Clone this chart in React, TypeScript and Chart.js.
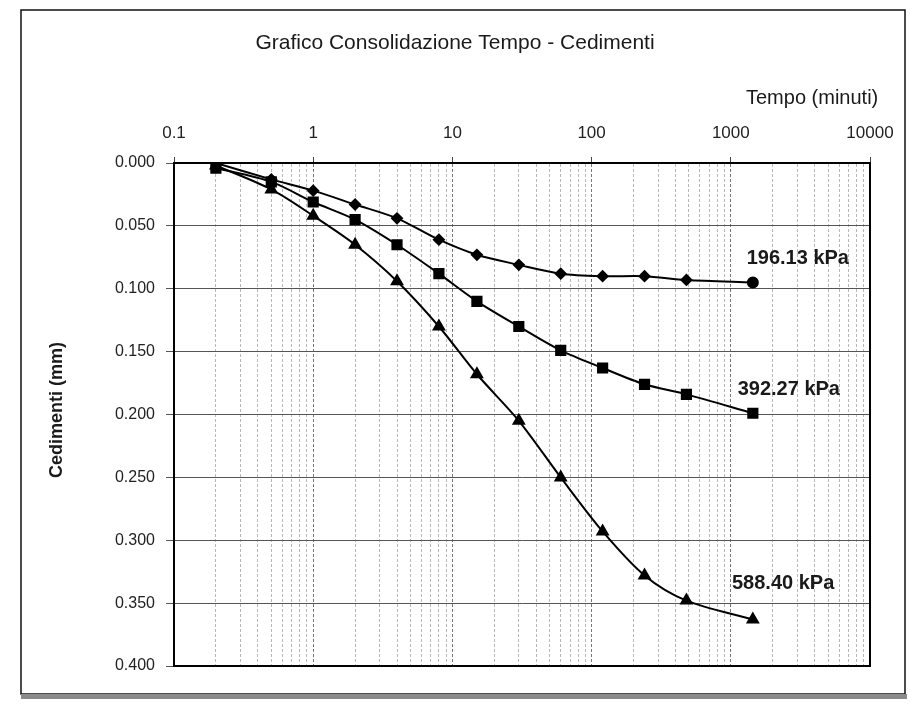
import React, { useEffect, useRef } from 'react';
import { Chart, registerables } from 'chart.js';

Chart.register(...registerables);

// ---- data ----
const times = [0.2, 0.5, 1, 2, 4, 8, 15, 30, 60, 120, 240, 480, 1440];
const ced196 = [0.000, 0.013, 0.022, 0.033, 0.044, 0.061, 0.073, 0.081, 0.088, 0.090, 0.090, 0.093, 0.095];
const ced392 = [0.004, 0.015, 0.031, 0.045, 0.065, 0.088, 0.110, 0.130, 0.149, 0.163, 0.176, 0.184, 0.199];
const ced588 = [0.002, 0.021, 0.042, 0.065, 0.094, 0.130, 0.168, 0.205, 0.250, 0.293, 0.328, 0.348, 0.363];

const seriesNames = ['196.13 kPa', '392.27 kPa', '588.40 kPa'];
const nameTime = [1300, 1120, 1020];
const nameCed = [0.0763, 0.1805, 0.3344];

const xDecades = [0.1, 1, 10, 100, 1000, 10000];
const yTicks = [0, 0.05, 0.1, 0.15, 0.2, 0.25, 0.3, 0.35, 0.4];

const chartTitle = 'Grafico Consolidazione Tempo - Cedimenti';
const xTitle = 'Tempo (minuti)';
const yTitle = 'Cedimenti (mm)';

const FONT = '"Liberation Sans", Arial, sans-serif';

const isDecade = (v: number) => xDecades.some((d) => Math.abs(v - d) < d * 1e-6);

const frameAndText = {
  id: 'frameAndText',
  beforeDraw(chart: any) {
    const ctx = chart.ctx;
    ctx.save();
    ctx.fillStyle = '#ffffff';
    ctx.fillRect(0, 0, chart.width, chart.height);
    // outer frame
    ctx.strokeStyle = '#111';
    ctx.lineWidth = 1.5;
    ctx.strokeRect(21, 10, 884, 684);
    ctx.fillStyle = '#8a8a8a';
    ctx.fillRect(21, 694, 886, 5);
    ctx.restore();
  },
  afterDraw(chart: any) {
    const ctx = chart.ctx;
    const { left, top, right, bottom } = chart.chartArea;
    const xs = chart.scales.x;
    const ys = chart.scales.y;
    ctx.save();
    // plot area box
    ctx.strokeStyle = '#000';
    ctx.lineWidth = 2;
    ctx.strokeRect(left, top, right - left, bottom - top);
    // titles
    ctx.fillStyle = '#1a1a1a';
    ctx.textBaseline = 'middle';
    ctx.font = `21px ${FONT}`;
    ctx.textAlign = 'center';
    ctx.fillText(chartTitle, 455, 43);
    ctx.font = `20px ${FONT}`;
    ctx.textAlign = 'left';
    ctx.fillText(xTitle, 746, 98);
    ctx.save();
    ctx.translate(57, 410);
    ctx.rotate(-Math.PI / 2);
    ctx.textAlign = 'center';
    ctx.font = `bold 18px ${FONT}`;
    ctx.fillText(yTitle, 0, 0);
    ctx.restore();
    // series labels
    ctx.font = `bold 20px ${FONT}`;
    ctx.textAlign = 'left';
    seriesNames.forEach((n, i) => {
      ctx.fillText(n, xs.getPixelForValue(nameTime[i]), ys.getPixelForValue(nameCed[i]));
    });
    ctx.restore();
  },
};

const toPoints = (vals: number[]) => times.map((t, i) => ({ x: t, y: vals[i] }));

export default function App() {
  const ref = useRef<HTMLCanvasElement>(null);
  useEffect(() => {
    if (!ref.current) return;
    const common = {
      borderColor: '#000',
      backgroundColor: '#000',
      borderWidth: 2,
      tension: 0.3,
      pointBorderColor: '#000',
      pointBackgroundColor: '#000',
      showLine: true,
    };
    const chart = new Chart(ref.current, {
      type: 'scatter',
      data: {
        datasets: [
          {
            ...common,
            label: seriesNames[0],
            data: toPoints(ced196),
            pointStyle: times.map((_, i) => (i === times.length - 1 ? 'circle' : 'rectRot')),
            pointRadius: times.map((_, i) => (i === times.length - 1 ? 5 : 5)),
          },
          {
            ...common,
            label: seriesNames[1],
            data: toPoints(ced392),
            pointStyle: 'rect',
            pointRadius: 6.5,
          },
          {
            ...common,
            label: seriesNames[2],
            data: toPoints(ced588),
            pointStyle: 'triangle',
            pointRadius: 6,
          },
        ],
      },
      options: {
        animation: false,
        responsive: false,
        layout: { padding: { left: 0, top: 0, right: 40, bottom: 42 } },
        plugins: { legend: { display: false }, tooltip: { enabled: false }, title: { display: false } },
        scales: {
          x: {
            type: 'logarithmic',
            position: 'top',
            min: 0.1,
            max: 10000,
            afterFit: (s: any) => {
              s.height = 163;
            },
            afterBuildTicks: (s: any) => {
              const t: any[] = [];
              xDecades.forEach((d, di) => {
                if (di === xDecades.length - 1) {
                  t.push({ value: d });
                  return;
                }
                for (let m = 1; m <= 9; m++) t.push({ value: Number((d * m).toPrecision(6)) });
              });
              s.ticks = t;
            },
            ticks: {
              autoSkip: false,
              maxRotation: 0,
              padding: 13,
              color: '#222',
              font: { family: FONT, size: 17 },
              callback: (v: any) => (isDecade(Number(v)) ? String(Number(v)) : ''),
            },
            grid: {
              color: (c: any) => (c.tick && isDecade(c.tick.value) ? '#777' : '#b8b8b8'),
              lineWidth: 1,
              tickLength: 6,
              tickColor: (c: any) => (c.tick && isDecade(c.tick.value) ? '#444' : 'rgba(0,0,0,0)'),
            },
            border: { color: '#000', width: 2, dash: [3, 2] },
          },
          y: {
            type: 'linear',
            reverse: true,
            min: 0,
            max: 0.4,
            afterFit: (s: any) => {
              s.width = 174;
            },
            afterBuildTicks: (s: any) => {
              s.ticks = yTicks.map((v) => ({ value: v }));
            },
            ticks: {
              padding: 11,
              color: '#222',
              font: { family: FONT, size: 16 },
              callback: (v: any) => Number(v).toFixed(3),
            },
            grid: { color: '#555', lineWidth: 1, tickLength: 8, tickColor: '#555' },
            border: { color: '#000', width: 2 },
          },
        },
      },
      plugins: [frameAndText],
    } as any);
    return () => chart.destroy();
  }, []);
  return (
    <div style={{ position: 'absolute', left: 0, top: 0, width: 910, height: 708, background: '#fff' }}>
      <canvas ref={ref} width={910} height={708} />
    </div>
  );
}
